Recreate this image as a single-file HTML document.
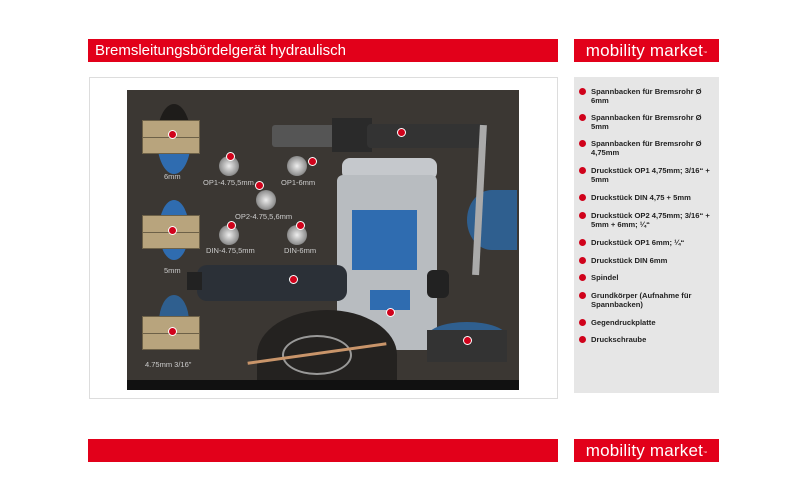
<!DOCTYPE html>
<html><head><meta charset="utf-8"><style>
*{margin:0;padding:0;box-sizing:border-box}
body{width:800px;height:500px;background:#fff;position:relative;overflow:hidden;font-family:"Liberation Sans",sans-serif}
.a{position:absolute}
.red{background:#e2001a}
.title{color:#fff;font-size:15px;line-height:23px;padding-left:7px}
.logo{color:#fff;font-size:17px;line-height:23px;text-align:center;font-weight:normal;letter-spacing:0.2px}
.logo sup{font-size:4px;vertical-align:top;position:relative;top:2px}
.leg{font-size:7.6px;font-weight:bold;color:#222;line-height:9px;left:591px;width:125px}
.dot{position:absolute;left:-12px;top:1px;width:7px;height:7px;border-radius:50%;background:#d0021b}
.n{position:absolute;width:9px;height:9px;border-radius:50%;background:#d0021b;border:1px solid #fff}
.lbl{position:absolute;color:#ccc;font-size:7.5px}
.jaw{position:absolute;width:58px;height:34px;background:#b8a47d;border:1px solid #6d6148}
.jaw:after{content:"";position:absolute;left:0;right:0;top:16px;height:1px;background:#6d6148}
.hole{position:absolute;border-radius:50%}
.nut{position:absolute;width:20px;height:20px;border-radius:50%;background:radial-gradient(#eee,#999 60%,#555)}
</style></head><body>
<div class="a red title" style="left:88px;top:39px;width:470px;height:23px">Bremsleitungsbördelgerät hydraulisch</div>
<div class="a red logo" style="left:574px;top:39px;width:145px;height:23px">mobility market<sup>™</sup></div>
<div class="a red" style="left:88px;top:439px;width:470px;height:23px"></div>
<div class="a red logo" style="left:574px;top:439px;width:145px;height:23px">mobility market<sup>™</sup></div>
<div class="a" style="left:89px;top:77px;width:469px;height:322px;border:1px solid #ddd"></div>
<div class="a" style="left:574px;top:77px;width:145px;height:316px;background:#e6e6e6"></div>

<div class="a" style="left:127px;top:90px;width:392px;height:300px;background:#3b3733;overflow:hidden">
 <div class="hole" style="left:30px;top:14px;width:34px;height:70px;background:linear-gradient(#1e1c1a 60%,#2f6cb0 60%)"></div>
 <div class="hole" style="left:32px;top:110px;width:30px;height:60px;background:linear-gradient(#2f6cb0 30%,#1e1c1a 30%,#1e1c1a 70%,#2f6cb0 70%)"></div>
 <div class="hole" style="left:32px;top:205px;width:30px;height:54px;background:#2f5f8f"></div>
 <div class="jaw" style="left:15px;top:30px"></div>
 <div class="jaw" style="left:15px;top:125px"></div>
 <div class="jaw" style="left:15px;top:226px"></div>
 <div class="lbl" style="left:37px;top:82px">6mm</div>
 <div class="lbl" style="left:37px;top:176px">5mm</div>
 <div class="lbl" style="left:18px;top:270px">4.75mm 3/16"</div>
 <div class="nut" style="left:92px;top:66px"></div>
 <div class="nut" style="left:160px;top:66px"></div>
 <div class="nut" style="left:129px;top:100px"></div>
 <div class="nut" style="left:92px;top:135px"></div>
 <div class="nut" style="left:160px;top:135px"></div>
 <div class="lbl" style="left:76px;top:88px">OP1-4.75,5mm</div>
 <div class="lbl" style="left:154px;top:88px">OP1-6mm</div>
 <div class="lbl" style="left:108px;top:122px">OP2-4.75,5,6mm</div>
 <div class="lbl" style="left:79px;top:156px">DIN-4.75,5mm</div>
 <div class="lbl" style="left:157px;top:156px">DIN-6mm</div>
 <div class="a" style="left:145px;top:35px;width:65px;height:22px;background:#555;border-radius:3px"></div>
 <div class="a" style="left:205px;top:28px;width:40px;height:34px;background:#2a2a2a"></div>
 <div class="a" style="left:240px;top:34px;width:120px;height:24px;background:#333;border-radius:4px"></div>
 <div class="a" style="left:340px;top:100px;width:50px;height:60px;background:#2f5f8f;border-radius:50% 0 0 50%"></div>
 <div class="a" style="left:349px;top:35px;width:7px;height:150px;background:#aaa;transform:rotate(3deg)"></div>
 <div class="a" style="left:215px;top:68px;width:95px;height:22px;background:#c5c8cc;border-radius:8px"></div>
 <div class="a" style="left:210px;top:85px;width:100px;height:175px;background:#b8bcc0;border-radius:6px"></div>
 <div class="a" style="left:225px;top:120px;width:65px;height:60px;background:#2f6cb0"></div>
 <div class="a" style="left:243px;top:200px;width:40px;height:20px;background:#2f6cb0"></div>
 <div class="a" style="left:70px;top:175px;width:150px;height:36px;background:#2b3037;border-radius:10px"></div>
 <div class="a" style="left:60px;top:182px;width:15px;height:18px;background:#222"></div>
 <div class="a" style="left:300px;top:180px;width:22px;height:28px;background:#222;border-radius:6px"></div>
 <div class="a" style="left:130px;top:220px;width:140px;height:90px;background:#242220;border-radius:50% 50% 0 0"></div>
 <div class="a" style="left:155px;top:245px;width:70px;height:40px;border:2px solid #ccc;border-radius:50%;opacity:.7"></div>
 <div class="a" style="left:120px;top:262px;width:140px;height:3px;background:#c9956a;transform:rotate(-8deg)"></div>
 <div class="a" style="left:300px;top:232px;width:80px;height:30px;background:#2f5f8f;border-radius:50% 50% 0 0"></div>
 <div class="a" style="left:300px;top:240px;width:80px;height:32px;background:#333"></div>
 <div class="a" style="left:0;top:290px;width:392px;height:10px;background:#111"></div>
 <div class="n" style="left:41px;top:40px"></div>
 <div class="n" style="left:41px;top:136px"></div>
 <div class="n" style="left:41px;top:237px"></div>
 <div class="n" style="left:99px;top:62px"></div>
 <div class="n" style="left:100px;top:131px"></div>
 <div class="n" style="left:128px;top:91px"></div>
 <div class="n" style="left:181px;top:67px"></div>
 <div class="n" style="left:169px;top:131px"></div>
 <div class="n" style="left:270px;top:38px"></div>
 <div class="n" style="left:162px;top:185px"></div>
 <div class="n" style="left:259px;top:218px"></div>
 <div class="n" style="left:336px;top:246px"></div>
</div>

<div class="a leg" style="top:87px"><i class="dot"></i>Spannbacken für Bremsrohr Ø 6mm</div>
<div class="a leg" style="top:113px"><i class="dot"></i>Spannbacken für Bremsrohr Ø 5mm</div>
<div class="a leg" style="top:139px"><i class="dot"></i>Spannbacken für Bremsrohr Ø 4,75mm</div>
<div class="a leg" style="top:166px"><i class="dot"></i>Druckstück OP1 4,75mm; 3/16“ + 5mm</div>
<div class="a leg" style="top:193px"><i class="dot"></i>Druckstück DIN 4,75 + 5mm</div>
<div class="a leg" style="top:211px"><i class="dot"></i>Druckstück OP2 4,75mm; 3/16“ + 5mm + 6mm; ¼“</div>
<div class="a leg" style="top:238px"><i class="dot"></i>Druckstück OP1 6mm; ¼“</div>
<div class="a leg" style="top:256px"><i class="dot"></i>Druckstück DIN 6mm</div>
<div class="a leg" style="top:273px"><i class="dot"></i>Spindel</div>
<div class="a leg" style="top:291px"><i class="dot"></i>Grundkörper (Aufnahme für Spannbacken)</div>
<div class="a leg" style="top:318px"><i class="dot"></i>Gegendruckplatte</div>
<div class="a leg" style="top:335px"><i class="dot"></i>Druckschraube</div>
</body></html>
